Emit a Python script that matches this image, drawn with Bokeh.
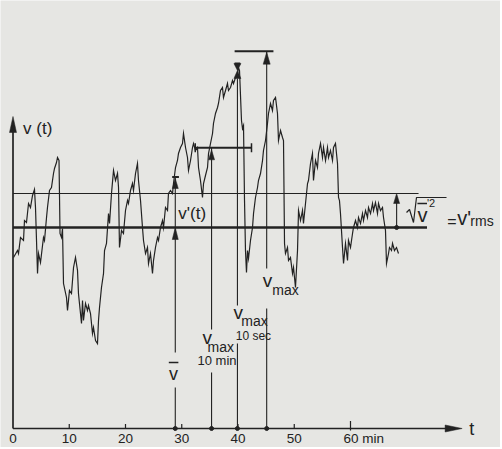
from bokeh.plotting import figure
from bokeh.models import Range1d
from bokeh.core.properties import value
from bokeh.embed import file_html
from bokeh.resources import INLINE

# ---- data (time in minutes, wind speed in arbitrary units) ----
t_min = [
    0.09, 0.80, 0.98, 1.33, 1.87, 2.04, 2.40, 2.76, 3.11, 3.47,
    3.82, 4.00, 4.36, 4.53, 4.89, 5.42, 5.60, 5.96, 6.13, 6.49,
    6.84, 7.20, 7.38, 7.73, 7.91, 8.18, 8.36, 8.62, 8.80, 8.98,
    9.51, 9.69, 10.04, 10.40, 10.76, 11.11, 11.47, 11.64, 11.82, 12.18,
    12.36, 12.53, 12.89, 13.24, 13.42, 13.78, 14.13, 14.31, 14.67, 15.02,
    15.20, 15.38, 15.73, 16.09, 16.27, 16.62, 16.98, 17.16, 17.51, 17.87,
    18.22, 18.58, 18.76, 18.93, 19.29, 19.64, 20.00, 20.36, 20.53, 20.89,
    21.24, 21.42, 21.78, 22.13, 22.31, 22.67, 23.02, 23.20, 23.56, 23.91,
    24.09, 24.44, 24.80, 24.98, 25.33, 25.69, 25.87, 26.22, 26.58, 26.76,
    27.11, 27.47, 27.64, 28.00, 28.36, 28.53, 28.89, 29.24, 29.42, 29.78,
    30.13, 30.31, 30.67, 31.02, 31.20, 31.56, 31.91, 32.09, 32.44, 32.80,
    32.98, 33.33, 33.69, 33.87, 34.22, 34.58, 34.76, 35.11, 35.47, 35.64,
    36.00, 36.36, 36.53, 36.89, 37.24, 37.42, 37.78, 38.13, 38.31, 38.67,
    39.02, 39.20, 39.56, 39.91, 40.09, 40.27, 40.62, 40.80, 40.98, 41.16,
    41.33, 41.51, 41.69, 41.87, 42.22, 42.58, 42.76, 43.11, 43.47, 43.64,
    44.00, 44.36, 44.53, 44.89, 45.24, 45.42, 45.78, 46.13, 46.31, 46.67,
    47.02, 47.20, 47.56, 47.91, 48.09, 48.27, 48.44, 48.80, 48.98, 49.33,
    49.69, 49.87, 50.22, 50.58, 50.76, 51.11, 51.47, 51.64, 52.00, 52.36,
    52.53, 52.89, 53.24, 53.42, 53.78, 54.13, 54.31, 54.67, 55.02, 55.20,
    55.56, 55.91, 56.09, 56.44, 56.80, 56.98, 57.33, 57.69, 57.87, 58.04,
    58.22, 58.58, 58.76, 59.11, 59.47, 59.64, 60.00, 60.36, 60.53, 60.89,
    61.24, 61.42, 61.78, 62.13, 62.31, 62.67, 63.02, 63.20, 63.56, 63.91,
    64.09, 64.44, 64.80, 64.98, 65.33, 65.69, 65.87, 66.22, 66.40, 66.76,
    66.93, 67.29, 67.47, 67.82, 68.18, 68.53,
]
v_signal = [
    17.1, 17.8, 17.5, 19.1, 18.8, 20.8, 20.6, 22.5, 22.1, 23.3,
    23.9, 22.1, 15.5, 17.5, 16.6, 19.1, 18.8, 21.1, 22.1, 23.8,
    24.1, 25.5, 26.0, 26.6, 27.1, 26.8, 19.5, 19.1, 20.0, 14.5,
    13.1, 11.8, 13.8, 13.5, 16.1, 17.1, 15.8, 13.5, 12.5, 10.5,
    12.8, 10.8, 12.5, 11.8, 12.3, 11.5, 9.5, 10.1, 8.8, 8.5,
    10.8, 12.1, 14.1, 15.5, 17.8, 18.5, 21.5, 20.5, 23.5, 25.8,
    24.8, 25.5, 24.1, 18.1, 19.8, 19.5, 21.8, 22.8, 22.5, 23.8,
    24.5, 23.8, 25.5, 26.5, 24.8, 22.8, 20.1, 18.8, 17.5, 18.1,
    16.5, 17.5, 15.5, 16.8, 18.1, 19.1, 18.8, 20.1, 20.8, 20.1,
    22.1, 21.8, 23.5, 23.8, 23.5, 24.5, 26.1, 26.8, 27.5, 28.1,
    28.5, 29.5, 28.1, 27.1, 25.8, 26.8, 28.1, 28.5, 27.8, 28.1,
    26.1, 24.8, 23.1, 24.5, 25.3, 26.1, 27.5, 28.5, 29.5, 30.5,
    31.5, 32.1, 32.5, 33.8, 34.1, 33.1, 33.8, 34.5, 33.8, 34.1,
    34.8, 34.5, 35.1, 35.5, 36.1, 35.8, 30.8, 30.0, 30.3, 22.8,
    17.8, 15.6, 17.8, 17.0, 18.8, 20.1, 21.5, 23.1, 24.1, 24.8,
    25.5, 26.8, 27.8, 28.8, 30.5, 31.5, 32.5, 31.8, 32.8, 33.1,
    31.5, 28.8, 29.8, 29.1, 28.8, 18.5, 17.5, 18.1, 16.8, 17.1,
    15.5, 16.1, 14.1, 17.8, 21.8, 20.8, 21.8, 20.5, 22.5, 24.5,
    24.8, 26.5, 27.5, 24.8, 26.8, 26.1, 27.5, 28.5, 27.1, 28.1,
    26.8, 28.1, 27.1, 27.8, 26.8, 28.1, 28.5, 26.5, 23.1, 22.8,
    21.5, 18.1, 16.5, 18.5, 16.8, 18.8, 18.1, 19.5, 20.1, 20.8,
    20.1, 21.1, 20.5, 21.5, 20.8, 21.8, 21.1, 22.1, 21.5, 22.5,
    21.8, 22.6, 21.5, 22.5, 21.8, 22.1, 21.1, 19.8, 16.5, 17.5,
    18.1, 17.8, 18.5, 17.8, 18.1, 17.5,
]

v_mean = 20.1          # mean speed  (thick line)
v_mean_plus_rms = 23.5 # mean + rms  (thin line)
t_vbar = 28.85         # v-bar / v'(t) marker time
v_prime_top = 25.15    # v'(t) marker top
t_10min = 35.3
v_10min = 28.07
t_10sec = 39.9
v_10sec = 36.5
t_vmax = 45.1
v_vmax = 37.73
t_rms = 68.2

tick_vals = [0, 10, 20, 30, 40, 50]
tick_labels = ["0", "10", "20", "30", "40", "50"]
last_tick = 60
last_tick_label = "60 min"

# ---- figure ----
BG = "#e6e6e3"
INK = "#222222"
FONT = value("Liberation Sans")
W, H = 500, 447
X0, X1 = -2.2222, 86.6667
Y0, Y1 = -1.9, 42.8
sx = W / (X1 - X0)
sy = H / (Y1 - Y0)

p = figure(width=W, height=H, x_range=Range1d(X0, X1), y_range=Range1d(Y0, Y1),
           output_backend="svg", toolbar_location=None, min_border=0)
p.min_border_left = p.min_border_right = p.min_border_top = p.min_border_bottom = 0
p.xaxis.visible = False
p.yaxis.visible = False
p.xgrid.visible = False
p.ygrid.visible = False
p.outline_line_color = None
p.background_fill_color = BG
p.border_fill_color = BG


def head(xt, yt, d, L, Wd):
    if d == "up":
        return [xt, xt - Wd / 2 / sx, xt + Wd / 2 / sx], [yt, yt - L / sy, yt - L / sy]
    if d == "down":
        return [xt, xt - Wd / 2 / sx, xt + Wd / 2 / sx], [yt, yt + L / sy, yt + L / sy]
    return [xt, xt - L / sx, xt - L / sx], [yt, yt + Wd / 2 / sy, yt - Wd / 2 / sy]


# axes
y_tip = 31.2
x_tip = 79.85
p.segment(x0=[0, 0], y0=[0, 0], x1=[0, x_tip - 10 / sx], y1=[y_tip - 10 / sy, 0],
          line_color=INK, line_width=1.7)
# ticks
p.segment(x0=tick_vals[1:], y0=[0] * 5, x1=tick_vals[1:], y1=[0.45] * 5, line_color=INK, line_width=1.2)
p.segment(x0=[last_tick], y0=[-0.2], x1=[last_tick], y1=[0.75], line_color=INK, line_width=1.2)

# horizontal reference lines
p.segment(x0=[0], y0=[v_mean], x1=[73.6], y1=[v_mean], line_color=INK, line_width=2.5)
p.segment(x0=[0], y0=[v_mean_plus_rms], x1=[72.1], y1=[v_mean_plus_rms], line_color=INK, line_width=1.0)

# signal
p.line(t_min, v_signal, line_color=INK, line_width=1.2, line_join="miter")

# vertical marker lines (with gaps for labels)
vx0 = [t_vbar, t_vbar, t_10min, t_10min, t_10sec, t_10sec, t_vmax, t_vmax, t_rms]
vy0 = [0, 7.6, 0, 9.9, 0, 12.3, 0, 16.0, v_mean]
vy1 = [4.1, v_prime_top, 5.6, v_10min, 8.5, 35.0, 12.0, v_vmax, v_mean_plus_rms - 0.5]
p.segment(x0=vx0, y0=vy0, x1=vx0, y1=vy1, line_color=INK, line_width=1.1)

# bars
bx0 = [t_vbar - 0.55, 32.4, t_10sec - 0.5, 39.4]
bx1 = [t_vbar + 0.65, 42.4, t_10sec + 0.5, 46.3]
by = [v_prime_top, v_10min, v_10sec, v_vmax]
p.segment(x0=bx0, y0=by, x1=bx1, y1=by, line_color=INK, line_width=2.0)
p.segment(x0=[32.4, 42.4], y0=[v_10min - 0.45, v_10min - 0.45], x1=[32.4, 42.4],
          y1=[v_10min + 0.45, v_10min + 0.45], line_color=INK, line_width=1.5)

# arrow heads
heads = [
    head(0, y_tip, "up", 16, 7),
    head(x_tip, 0, "right", 17, 7),
    head(t_vbar, v_mean, "up", 12, 6),
    head(t_vbar, v_prime_top - 0.15, "up", 10, 6),
    head(t_10min, v_10min - 0.2, "up", 10, 6),
    head(t_10sec, 35.8, "up", 8, 7),
    head(t_10sec, 35.8, "down", 7, 7),
    head(t_vmax, v_vmax - 0.1, "up", 12, 7),
    head(t_rms, v_mean_plus_rms, "up", 10, 6),
]
p.patches([h[0] for h in heads], [h[1] for h in heads], fill_color=INK, line_color=INK, line_width=0.5)

# dots
p.scatter([t_vbar, t_10min, t_10sec, t_vmax, t_rms], [0, 0, 0, 0, v_mean],
          size=4, color=INK)

# sqrt sign and overlines
p.line([69.96, 70.49, 71.2, 71.73, 77.07], [21.6, 21.9, 20.6, 23.1, 23.1], line_color=INK, line_width=1.2)
p.segment(x0=[71.9, 27.7], y0=[22.5, 6.6], x1=[73.6, 29.4], y1=[22.5, 6.6], line_color=INK, line_width=1.3)

TEXT_SHIFT = -5  # compensate renderer's baseline placement (px)


def txt(xs, ys, texts, size, align="left", xoff=0):
    p.text(x=xs, y=ys, text=texts, text_font=FONT, text_font_size=size, text_color=INK,
           text_align=align, text_baseline="alphabetic", x_offset=xoff, y_offset=TEXT_SHIFT)


# tick labels
txt(tick_vals, [-1.5] * 6, tick_labels, "13.5px", "center")
txt([last_tick], [-1.5], [last_tick_label], "13.5px", "left", -7)
txt([81.1], [-0.5], ["t"], "18px")

# labels
txt([1.8], [29.5], ["v (t)"], "17px")
txt([29.4], [21.0], ["v'(t)"], "17px")
txt([28.55], [5.0], ["v"], "18px", "center")
txt([33.7, 39.2, 44.4], [8.6, 11.1, 14.3], ["v", "v", "v"], "19px")
txt([34.6, 40.6, 46.1], [7.7, 10.3, 13.4], ["max", "max", "max"], "14px")
txt([32.8], [6.3], ["10 min"], "13px")
txt([39.6], [8.8], ["10 sec"], "12px")

# rms formula
txt([71.9], [20.9], ["v"], "20px")
txt([73.6], [22.1], ["'2"], "11px")
txt([77.2], [20.2], ["="], "16px")
txt([79.0], [20.6], ["v'"], "20px")
txt([81.3], [20.3], ["rms"], "14px")

open("out.html", "w").write(file_html(p, INLINE))
